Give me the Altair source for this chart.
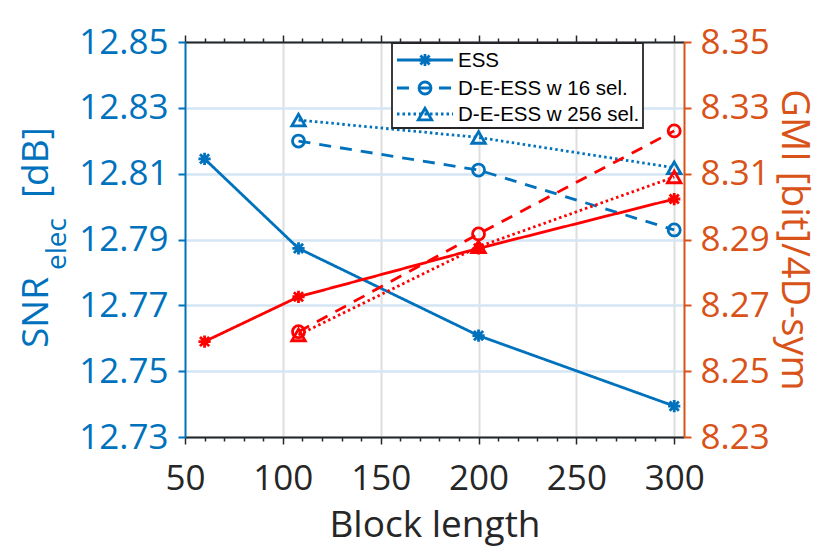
import altair as alt
import pandas as pd

# ---------------- data ----------------
series_names = ["ESS", "D-E-ESS w 16 sel.", "D-E-ESS w 256 sel."]

block_ess = [60, 108, 200, 300]
block_de = [108, 200, 300]

snr_ess = [12.8145, 12.7873, 12.7608, 12.7394]
snr_16 = [12.8199, 12.8111, 12.7929]
snr_256 = [12.8263, 12.8210, 12.8118]

gmi_ess = [8.2590, 8.2726, 8.2873, 8.3023]
gmi_16 = [8.2620, 8.2917, 8.3230]
gmi_256 = [8.2610, 8.2878, 8.3090]

x_ticks = list(range(50, 301, 10))
snr_ticks = [12.73, 12.75, 12.77, 12.79, 12.81, 12.83, 12.85]
gmi_ticks = [8.23, 8.25, 8.27, 8.29, 8.31, 8.33, 8.35]

# ---------------- table ----------------
rows = []
for name, blocks, snr, gmi in [
    (series_names[0], block_ess, snr_ess, gmi_ess),
    (series_names[1], block_de, snr_16, gmi_16),
    (series_names[2], block_de, snr_256, gmi_256),
]:
    for b, s, g in zip(blocks, snr, gmi):
        rows.append({"block": b, "snr": s, "gmi": g, "series": name})
df = pd.DataFrame(rows)

# ---------------- styles ----------------
BLUE = "#0072BD"
RED = "#FF0000"
ORANGE = "#D95319"
DARK = "#262626"
FONT = "Open Sans"
LW = 2.8

ASTERISK = "M-1,0L1,0M0,-1L0,1M-0.75,-0.75L0.75,0.75M-0.75,0.75L0.75,-0.75"
marker_shapes = {series_names[0]: ASTERISK,
                 series_names[1]: "circle",
                 series_names[2]: "triangle-up"}
marker_sizes = {series_names[0]: 150, series_names[1]: 144, series_names[2]: 180}
dash_styles = {series_names[0]: [1, 0], series_names[1]: [12, 9], series_names[2]: [2.5, 3]}

dash_scale = alt.Scale(domain=series_names, range=[dash_styles[n] for n in series_names])
xscale = alt.Scale(domain=[50, 305], nice=False, zero=False)

major_test = "datum.value % 50 === 0"
tick_size = {"condition": {"test": major_test, "value": 7}, "value": 4}

x_bottom = alt.X(
    "block:Q", scale=xscale, title="Block length",
    axis=alt.Axis(
        orient="bottom", values=x_ticks,
        labelExpr=f"{major_test} ? datum.label : ''",
        labelFontSize=35, labelColor=DARK, labelPadding=17, labelFlush=False,
        labelOverlap=False, labelFont=FONT,
        domainColor=DARK, domainWidth=2, tickColor=DARK, tickWidth=1.5,
        tickSize=tick_size,
        grid=True, gridColor="#dedede", gridWidth=2,
        gridOpacity={"condition": {"test": "datum.value % 50 === 0 && datum.value > 50", "value": 1}, "value": 0},
        titleFontSize=37, titleFont=FONT, titleFontWeight="normal", titleColor=DARK,
        titlePadding=11,
    ),
)
x_top = alt.X(
    "block:Q", scale=xscale, title=None,
    axis=alt.Axis(
        orient="top", values=x_ticks, labels=False, grid=False,
        domainColor=DARK, domainWidth=2, tickColor=DARK, tickWidth=1.5,
        tickSize=tick_size,
    ),
)

y_snr = alt.Y(
    "snr:Q", scale=alt.Scale(domain=[12.73, 12.85], nice=False, zero=False), title=None,
    axis=alt.Axis(
        orient="left", values=snr_ticks, format=".2f",
        labelFontSize=35, labelColor=BLUE, labelPadding=10, labelFont=FONT,
        domainColor=BLUE, domainWidth=2, tickColor=BLUE, tickWidth=2, tickSize=7,
        grid=True, gridColor="#d4e5f3", gridWidth=2.5,
    ),
)
y_gmi = alt.Y(
    "gmi:Q", scale=alt.Scale(domain=[8.23, 8.35], nice=False, zero=False),
    title="GMI [bit]/4D-sym",
    axis=alt.Axis(
        orient="right", values=gmi_ticks, format=".2f",
        labelFontSize=35, labelColor=ORANGE, labelPadding=9, labelFont=FONT,
        domainColor=ORANGE, domainWidth=2, tickColor=ORANGE, tickWidth=2, tickSize=7,
        grid=False,
        titleFontSize=38, titleFont=FONT, titleFontWeight="normal", titleColor=ORANGE,
        titlePadding=4,
    ),
)

base = alt.Chart(df)

def group(color, xenc, yenc):
    layers = [
        base.mark_line(color=color, strokeWidth=LW).encode(
            x=xenc, y=yenc,
            strokeDash=alt.StrokeDash("series:N", scale=dash_scale, legend=None),
        )
    ]
    for name in series_names:
        layers.append(
            base.transform_filter(alt.datum.series == name)
            .mark_point(shape=marker_shapes[name], size=marker_sizes[name], filled=False,
                        strokeWidth=LW, color=color, opacity=1)
            .encode(x=xenc, y=yenc)
        )
    return alt.layer(*layers)

blue = group(BLUE, x_bottom, y_snr)
red = group(RED, x_top, y_gmi)

one = alt.Data(values=[{"k": 1}])

# ---------------- y-axis title with subscript ----------------
def vtext(txt, size, x, y):
    return alt.Chart(one).mark_text(text=txt, angle=270, align="left", baseline="alphabetic",
                                    font=FONT, fontSize=size, color=BLUE).encode(
        x=alt.value(x), y=alt.value(y))

t_snr = vtext("SNR", 37, -137, 306)
t_elec = vtext("elec", 28, -119, 228)
t_db = vtext("[dB]", 37, -137, 156)

# ---------------- legend (box, line samples, markers, labels) ----------------
LEG_L, LEG_R, LEG_T, LEG_B = 207, 458, 1, 86
row_y = [18, 46, 72]
leg_layers = [
    alt.Chart(one).mark_rect(fill="white", stroke=DARK, strokeWidth=1.8).encode(
        x=alt.value(LEG_L), x2=alt.value(LEG_R), y=alt.value(LEG_T), y2=alt.value(LEG_B))
]
for name, yc in zip(series_names, row_y):
    leg_layers.append(
        alt.Chart(one).mark_rule(color=BLUE, strokeWidth=LW, strokeDash=dash_styles[name]).encode(
            x=alt.value(212), x2=alt.value(268), y=alt.value(yc)))
    leg_layers.append(
        alt.Chart(one).mark_point(shape=marker_shapes[name], size=marker_sizes[name], filled=False,
                                  strokeWidth=LW, color=BLUE, opacity=1).encode(
            x=alt.value(240), y=alt.value(yc)))
    leg_layers.append(
        alt.Chart(one).mark_text(text=name, align="left", baseline="middle",
                                 font="Liberation Sans", fontSize=20.5, color="black").encode(
            x=alt.value(273), y=alt.value(yc + 1)))

chart = (
    alt.layer(blue, red, t_snr, t_elec, t_db, *leg_layers)
    .resolve_scale(y="independent")
    .resolve_axis(x="independent", y="independent")
    .properties(
        width=499, height=395,
        autosize=alt.AutoSizeParams(type="none"),
        padding={"left": 177, "top": 34, "right": 138, "bottom": 109},
        background="white",
    )
    .configure_view(stroke=None)
)

chart.save("out.html", embed_options={"renderer": "svg", "actions": False})
